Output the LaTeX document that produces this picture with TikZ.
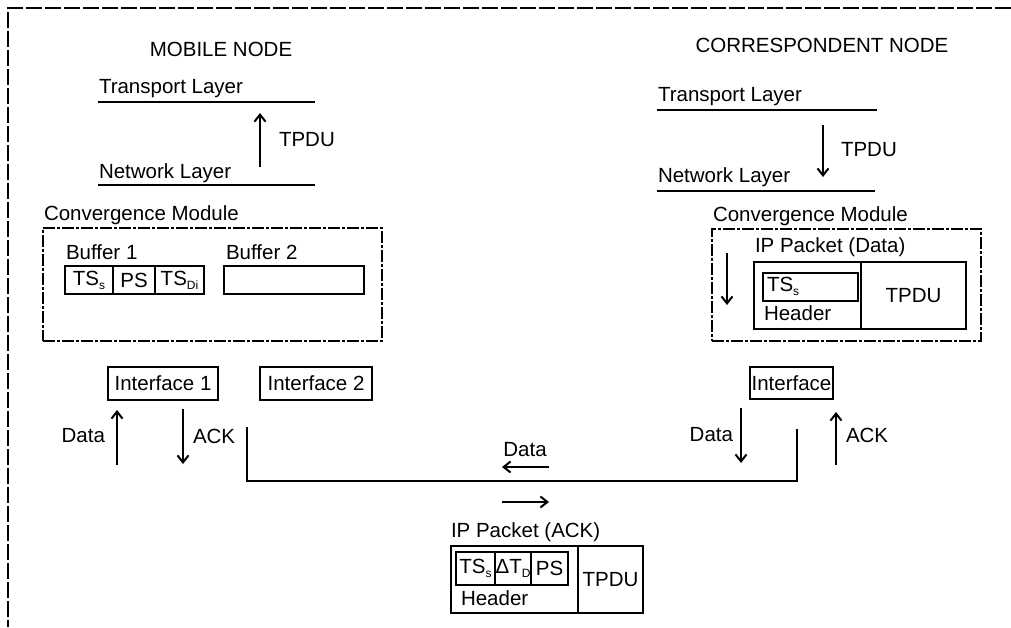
\documentclass[tikz,border=0pt]{standalone}
\usepackage{fontspec}
\setmainfont{Liberation Sans}
\usetikzlibrary{arrows.meta}
\newcommand\lowtxt[1]{\raisebox{-0.35ex}{\fontsize{12}{13}\selectfont #1}}
\begin{document}
\begin{tikzpicture}[x=1pt,y=-1pt,
  font=\fontsize{20.5}{24}\selectfont, line width=2pt,
  lbl/.style={inner sep=0pt, anchor=west},
  box/.style={draw, inner sep=0pt, anchor=north west},
  arr/.style={-{Straight Barb[length=7pt,width=11pt,line width=2pt]}},
  cmbox/.style={draw, inner sep=0pt, anchor=north west, line width=1.7pt,
    dash pattern=on 12pt off 2pt on 3pt off 2pt},
  frame/.style={line width=1.2pt, dash pattern=on 16pt off 3pt}]
\useasboundingbox (0,0) rectangle (1011,627);

% page frame
\coordinate (fTL) at (8,8);
\coordinate (fTR) at (1011,8);
\coordinate (fBL) at (8,627);
\draw[frame] (fTR) -- (fTL) -- (fBL);

% ---------------- mobile node ----------------
\node (mnTitle) at (221,49) {MOBILE NODE};
\node[lbl] (mnTrans) at (98,89) {Transport Layer};
\coordinate (mnTA) at (98,102); \coordinate (mnTB) at (315,102);
\draw (mnTA) -- (mnTB);
\node[lbl] (mnNet) at (98,173) {Network Layer};
\coordinate (mnNA) at (98,185); \coordinate (mnNB) at (315,185);
\draw (mnNA) -- (mnNB);
\coordinate (mnUpA) at (260,167); \coordinate (mnUpB) at (260,113);
\draw[arr] (mnUpA) -- (mnUpB);
\node[lbl] (mnTpdu) at (278,140) {TPDU};

\node[lbl] (mnCmLbl) at (43,215) {Convergence Module};
\node[cmbox, minimum width=339pt, minimum height=113pt] (mnCm) at (42,227) {};
\node[lbl] (buf1Lbl) at (65,252) {Buffer 1};
\node[box, minimum width=48pt, minimum height=28pt] (b1a) at (64,265) {TS\lowtxt{s}};
\node[box, minimum width=42pt, minimum height=28pt] (b1b) at (112,265) {PS};
\node[box, minimum width=49pt, minimum height=28pt] (b1c) at (154,265) {TS\lowtxt{Di}};
\node[lbl] (buf2Lbl) at (225,252) {Buffer 2};
\node[box, minimum width=140pt, minimum height=28pt] (b2) at (223,265) {};

\node[box, minimum width=110pt, minimum height=33pt] (if1) at (107,366) {Interface 1};
\node[box, minimum width=112pt, minimum height=33pt] (if2) at (259,366) {Interface 2};

\coordinate (mDataA) at (117,465); \coordinate (mDataB) at (117,410);
\draw[arr] (mDataA) -- (mDataB);
\node[inner sep=0pt, anchor=east] (mDataLbl) at (106,436) {Data};
\coordinate (mAckA) at (183,409); \coordinate (mAckB) at (183,464);
\draw[arr] (mAckA) -- (mAckB);
\node[lbl] (mAckLbl) at (192,436) {ACK};

% ---------------- link ----------------
\coordinate (lnA) at (247,427);
\coordinate (lnB) at (247,481);
\coordinate (lnC) at (797,481);
\coordinate (lnD) at (797,429);
\draw[line width=1.8pt] (lnA) -- (lnB) -- (lnC) -- (lnD);

\coordinate (dlA) at (549,467); \coordinate (dlB) at (502,467);
\draw[arr] (dlA) -- (dlB);
\node (dlLbl) at (525,450) {Data};
\coordinate (drA) at (502,502); \coordinate (drB) at (549,502);
\draw[arr] (drA) -- (drB);

% ACK packet
\node[lbl] (ackPktLbl) at (450,532) {IP Packet (ACK)};
\node[box, minimum width=127pt, minimum height=67pt] (ackHdr) at (450,545) {};
\node[box, minimum width=65pt, minimum height=67pt] (ackTpdu) at (577,545) {TPDU};
\node[box, minimum width=39pt, minimum height=33pt] (ackTs) at (455,551) {TS\lowtxt{s}};
\node[box, minimum width=36pt, minimum height=33pt] (ackDt) at (494,551) {ΔT\lowtxt{D}};
\node[box, minimum width=37pt, minimum height=33pt] (ackPs) at (530,551) {PS};
\node[lbl] (ackHdrLbl) at (460,598) {Header};

% ---------------- correspondent node ----------------
\node (cnTitle) at (822,45) {CORRESPONDENT NODE};
\node[lbl] (cnTrans) at (657,97) {Transport Layer};
\coordinate (cnTA) at (657,110); \coordinate (cnTB) at (877,110);
\draw (cnTA) -- (cnTB);
\node[lbl] (cnNet) at (657,177) {Network Layer};
\coordinate (cnNA) at (657,191); \coordinate (cnNB) at (875,191);
\draw (cnNA) -- (cnNB);
\coordinate (cnDnA) at (823,125); \coordinate (cnDnB) at (823,177);
\draw[arr] (cnDnA) -- (cnDnB);
\node[lbl] (cnTpdu) at (840,150) {TPDU};

\node[lbl] (cnCmLbl) at (712,216) {Convergence Module};
\node[cmbox, minimum width=269pt, minimum height=112pt] (cnCm) at (711,228) {};
\node[lbl] (dataPktLbl) at (754,247) {IP Packet (Data)};
\node[box, minimum width=107pt, minimum height=67pt] (dHdr) at (753,261) {};
\node[box, minimum width=105pt, minimum height=67pt] (dTpdu) at (860,261) {TPDU};
\node[box, minimum width=95pt, minimum height=28pt] (dTs) at (762,272) {};
\node[lbl] (dTsLbl) at (766,286) {TS\lowtxt{s}};
\node[lbl] (dHdrLbl) at (763,313) {Header};
\coordinate (cmDnA) at (727,253); \coordinate (cmDnB) at (727,305);
\draw[arr] (cmDnA) -- (cmDnB);

\node[box, minimum width=83pt, minimum height=32pt] (cnIf) at (749,366) {Interface};

\coordinate (cDataA) at (741,408); \coordinate (cDataB) at (741,463);
\draw[arr] (cDataA) -- (cDataB);
\node[inner sep=0pt, anchor=east] (cDataLbl) at (734,435) {Data};
\coordinate (cAckA) at (836,465); \coordinate (cAckB) at (836,412);
\draw[arr] (cAckA) -- (cAckB);
\node[lbl] (cAckLbl) at (845,435) {ACK};
\end{tikzpicture}
\end{document}
